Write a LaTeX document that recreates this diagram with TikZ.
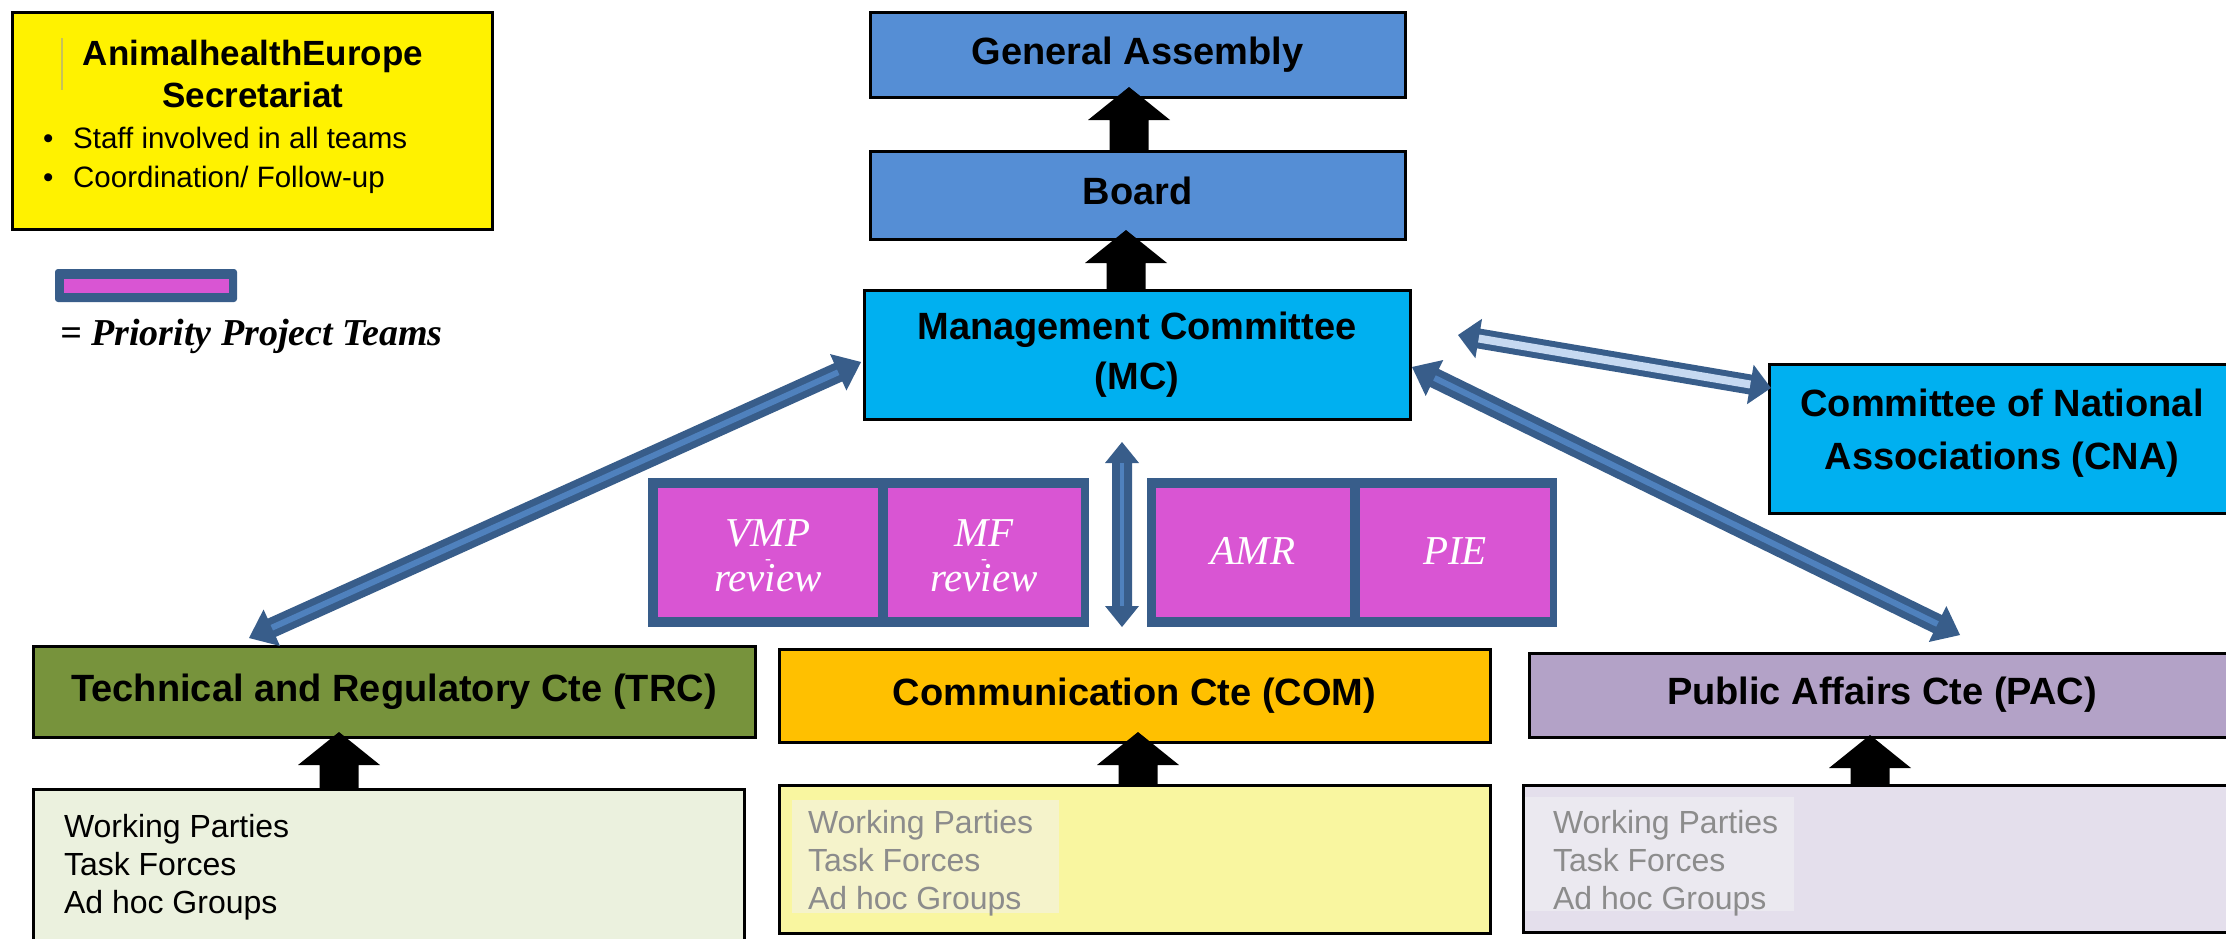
\documentclass[tikz,border=0pt]{standalone}
\usepackage{fontspec}
\setmainfont{Liberation Sans}
\newfontfamily\serifit{Liberation Serif}
\usetikzlibrary{calc}
\definecolor{gablue}{HTML}{558ED5}
\definecolor{mccyan}{HTML}{00B0F0}
\definecolor{trcgreen}{HTML}{77933C}
\definecolor{comorange}{HTML}{FFC000}
\definecolor{pacpurple}{HTML}{B3A2C7}
\definecolor{wtrcfill}{HTML}{EBF1DE}
\definecolor{wcomfill}{HTML}{F9F6A0}
\definecolor{wcomhl}{HTML}{F5F3CB}
\definecolor{wpacfill}{HTML}{E4DFEC}
\definecolor{wpachl}{HTML}{EBE9F0}
\definecolor{pptblue}{HTML}{385D8A}
\definecolor{pptmag}{HTML}{D955D3}
\definecolor{arrinner}{HTML}{4F81BD}
\definecolor{arrlight}{HTML}{C6D9F1}
\definecolor{graytext}{HTML}{8C8C8C}
\definecolor{cursorcol}{HTML}{C8C25A}

\tikzset{
 box/.style={draw=black, line width=3pt, inner sep=0pt, outer sep=0pt, align=center, anchor=north west, font=\fontsize{38}{50}\selectfont\bfseries},
 sbox/.style={box, text height=27pt, text depth=8pt},
 wbox/.style={draw=black, line width=3pt, inner sep=0pt, outer sep=0pt, anchor=north west},
 hlbox/.style={inner sep=0pt, outer sep=0pt, anchor=north west},
 wtext/.style={inner sep=0pt, outer sep=0pt, anchor=north west, align=left, font=\fontsize{32}{38}\selectfont},
 pptframe/.style={fill=pptblue, inner sep=0pt, outer sep=0pt, anchor=north west},
 pptcell/.style={fill=pptmag, inner sep=0pt, outer sep=0pt, anchor=north west},
 ppttext/.style={text=white, inner sep=0pt, anchor=base, align=center, font=\fontsize{41}{41}\selectfont\serifit\itshape},
}
\newcommand\smalldash{{\fontsize{18}{18}\selectfont -}}

% black block arrow pointing up: #1 x (px), #2 lower node, #3 upper node, #4 tip depth into upper node
\newcommand\blockup[4]{%
 \fill[black] let \p1=(#2.north), \p2=(#3.south) in
  (#1pt-19.5pt,\y1) -- (#1pt-19.5pt,\y2+#4pt-33pt) -- (#1pt-41pt,\y2+#4pt-33pt)
  -- (#1pt,\y2+#4pt) -- (#1pt+41pt,\y2+#4pt-33pt) -- (#1pt+19.5pt,\y2+#4pt-33pt)
  -- (#1pt+19.5pt,\y1) -- cycle;}

% blue double block arrow: #1 start, #2 end, #3 shaft half width, #4 head half width, #5 head length, #6 stripe style
\newcommand\dblarrow[6]{%
 \fill[pptblue] let \p1=(#1), \p2=(#2), \n1={atan2(\y2-\y1,\x2-\x1)} in
  (\p1) -- ($(\p1)+(\n1:#5)+(\n1+90:#4)$) -- ($(\p1)+(\n1:#5)+(\n1+90:#3)$)
  -- ($(\p2)+(\n1:-#5)+(\n1+90:#3)$) -- ($(\p2)+(\n1:-#5)+(\n1+90:#4)$) -- (\p2)
  -- ($(\p2)+(\n1:-#5)+(\n1-90:#4)$) -- ($(\p2)+(\n1:-#5)+(\n1-90:#3)$)
  -- ($(\p1)+(\n1:#5)+(\n1-90:#3)$) -- ($(\p1)+(\n1:#5)+(\n1-90:#4)$) -- cycle;
 \draw[#6] let \p1=(#1), \p2=(#2), \n1={atan2(\y2-\y1,\x2-\x1)} in
  ($(\p1)+(\n1:#5)$) -- ($(\p2)+(\n1:-#5)$);}

\begin{document}
\begin{tikzpicture}[x=1pt,y=-1pt]
\useasboundingbox (0,0) rectangle (2226,938);
\fill[white] (0,0) rectangle (2226,938);
\clip (0,0) rectangle (2226,938);

% Secretariat box
\node[wbox, fill=yellow, minimum width=480pt, minimum height=217pt] (sec) at (12,12) {};
\draw[line width=2pt, cursorcol] (62,38) -- (62,90);
\node[inner sep=0pt, align=center, anchor=base, font=\fontsize{35}{42}\selectfont\bfseries] (sectitle) at (253,107) {AnimalhealthEurope\\Secretariat};
\node[inner sep=0pt, anchor=base west, font=\fontsize{29.5}{36}\selectfont] (secb1) at (43,148) {\makebox[30pt][l]{\textbullet}Staff involved in all teams};
\node[inner sep=0pt, anchor=base west, font=\fontsize{29.5}{36}\selectfont] (secb2) at (43,187) {\makebox[30pt][l]{\textbullet}Coordination/ Follow-up};

% legend
\node[pptframe, minimum width=182pt, minimum height=33pt, rounded corners=3pt] (legbar) at (55,269) {};
\node[pptcell, minimum width=165pt, minimum height=14pt] (leginner) at (64,279) {};
\node[inner sep=0pt, anchor=base west, font=\fontsize{38}{38}\selectfont\serifit\bfseries\itshape] (legtext) at (60,345) {= Priority Project Teams};

% top hierarchy
\node[sbox, fill=gablue, minimum width=535pt, minimum height=85pt] (ga) at (870,12) {General Assembly};
\node[sbox, fill=gablue, minimum width=535pt, minimum height=88pt] (board) at (870,151) {Board};
\node[box, fill=mccyan, minimum width=546pt, minimum height=129pt] (mc) at (864,290) {Management Committee\\(MC)};
\node[box, fill=mccyan, minimum width=466pt, minimum height=149pt] (cna) at (1769,364) {};
\node[inner sep=0pt, align=center, font=\fontsize{38}{53}\selectfont\bfseries] (cnatext) at (2002,433.5) {Committee of National\\Associations (CNA)};

% priority project teams
\node[pptframe, minimum width=441pt, minimum height=149pt] (pptL) at (648,478) {};
\node[pptcell, minimum width=220pt, minimum height=129pt] (vmp) at (658,488) {};
\node[pptcell, minimum width=193pt, minimum height=129pt] (mf) at (888,488) {};
\node[pptframe, minimum width=410pt, minimum height=149pt] (pptR) at (1147,478) {};
\node[pptcell, minimum width=194pt, minimum height=129pt] (amr) at (1156,488) {};
\node[pptcell, minimum width=190pt, minimum height=129pt] (pie) at (1360,488) {};
\node[ppttext] (vmpt) at (768,591) {VMP\\[-23pt]\smalldash\\[-14pt]review};
\node[ppttext] (mft) at (984,591) {MF\\[-23pt]\smalldash\\[-14pt]review};
\node[ppttext] (amrt) at (1253,564) {AMR};
\node[ppttext] (piet) at (1455,564) {PIE};

% committees
\node[sbox, fill=trcgreen, minimum width=722pt, minimum height=91pt] (trc) at (33,646) {Technical and Regulatory Cte (TRC)};
\node[sbox, fill=comorange, minimum width=711pt, minimum height=93pt] (com) at (779,649) {Communication Cte (COM)};
\node[sbox, fill=pacpurple, minimum width=706pt, minimum height=84pt] (pac) at (1529,653) {Public Affairs Cte (PAC)};

% working groups
\node[wbox, fill=wtrcfill, minimum width=711pt, minimum height=170pt] (wtrc) at (33,789) {};
\node[wtext] (wtrct) at (64,814) {Working Parties\\Task Forces\\Ad hoc Groups};
\node[wbox, fill=wcomfill, minimum width=711pt, minimum height=148pt] (wcom) at (779,785) {};
\node[hlbox, fill=wcomhl, minimum width=267pt, minimum height=113pt] (wcomhl) at (792,800) {};
\node[wtext, text=graytext] (wcomt) at (808,810) {Working Parties\\Task Forces\\Ad hoc Groups};
\node[wbox, fill=wpacfill, minimum width=712pt, minimum height=147pt] (wpac) at (1523,785) {};
\node[hlbox, fill=wpachl, minimum width=269pt, minimum height=114pt] (wpachl) at (1525,797) {};
\node[wtext, text=graytext] (wpact) at (1553,810) {Working Parties\\Task Forces\\Ad hoc Groups};

% black upward arrows
\blockup{1129}{board}{ga}{10}
\blockup{1126}{mc}{board}{9}
\blockup{339}{wtrc}{trc}{5}
\blockup{1138}{wcom}{com}{10}
\blockup{1870}{wpac}{pac}{2}

% blue double arrows
\coordinate (mcW) at ([shift={(-3pt,-7.5pt)}]mc.west);
\coordinate (trcN) at ([shift={(216pt,8pt)}]trc.north west);
\coordinate (mcE) at ([shift={(2pt,-12.5pt)}]mc.east);
\coordinate (pacN) at ([shift={(431pt,18pt)}]pac.north west);
\coordinate (mcE2) at ([shift={(48pt,19.5pt)}]mc.east);
\coordinate (cnaW) at ([shift={(2pt,-24pt)}]cna.north west);
\coordinate (vTop) at ([shift={(-15pt,-23pt)}]mc.south);
\coordinate (vBot) at (vTop |- pptL.south);

\dblarrow{mcW}{trcN}{10pt}{20pt}{25pt}{arrinner, line width=6pt}
\dblarrow{mcE}{pacN}{10pt}{20pt}{25pt}{arrinner, line width=6pt}
\dblarrow{mcE2}{cnaW}{10pt}{20pt}{21pt}{arrlight, line width=8pt}
\dblarrow{vTop}{vBot}{10pt}{17pt}{21pt}{arrinner, line width=4pt}
\end{tikzpicture}
\end{document}
